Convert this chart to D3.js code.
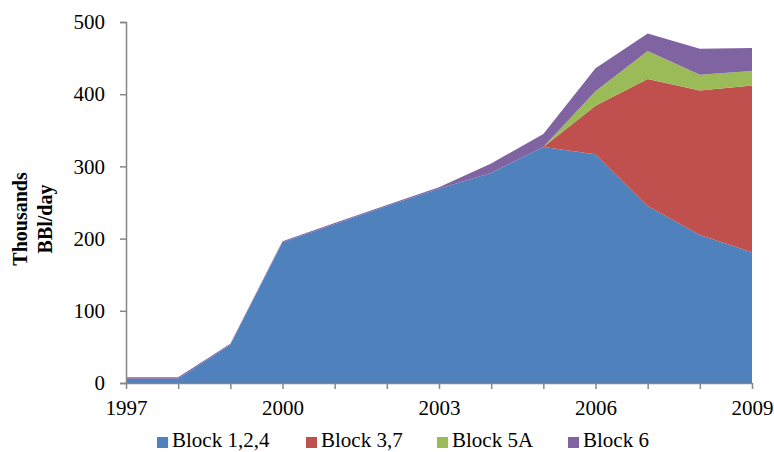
<!DOCTYPE html>
<html>
<head>
<meta charset="utf-8">
<script src="https://cdn.jsdelivr.net/npm/d3@7/dist/d3.min.js"></script>
<style>
  html, body { margin: 0; padding: 0; background: #fff; }
  svg { display: block; font-family: "Liberation Serif", "Times New Roman", serif; }
</style>
</head>
<body>
<svg id="chart" width="774" height="452"></svg>
<script>
// Production by block, thousands of barrels per day
const years = [1997, 1998, 1999, 2000, 2001, 2002, 2003, 2004, 2005, 2006, 2007, 2008, 2009];
const block124 = [6, 6, 53, 195, 220, 245, 269, 291, 327, 317, 245, 205, 181];
const block37  = [0, 0, 0, 0, 0, 0, 0, 0, 0, 67, 176, 200, 231];
const block5A  = [0, 0, 0, 0, 0, 0, 0, 0, 0, 20, 39, 22, 20];
const block6   = [2, 2, 1.5, 1.5, 1.5, 1.5, 2, 13, 18, 32, 24, 36, 32];
const seriesNames = ["Block 1,2,4", "Block 3,7", "Block 5A", "Block 6"];
const seriesColors = ["#4F81BD", "#C0504D", "#9BBB59", "#8064A2"];
const xTickYears = [1997, 2000, 2003, 2006, 2009];
const yTicks = [0, 100, 200, 300, 400, 500];

const rows = years.map((y, i) => ({
  year: y,
  "Block 1,2,4": block124[i],
  "Block 3,7": block37[i],
  "Block 5A": block5A[i],
  "Block 6": block6[i]
}));

const svg = d3.select("#chart");
const x = d3.scaleLinear().domain([1997, 2009]).range([126, 752]);
const y = d3.scaleLinear().domain([0, 500]).range([383, 22]);
const color = d3.scaleOrdinal().domain(seriesNames).range(seriesColors);

const stacked = d3.stack().keys(seriesNames)(rows);
const area = d3.area()
  .x(d => x(d.data.year))
  .y0(d => y(d[0]))
  .y1(d => y(d[1]));

svg.append("g").selectAll("path")
  .data(stacked)
  .join("path")
  .attr("d", area)
  .attr("fill", d => color(d.key));

const axisColor = "#868686";

// Y axis
const yAxis = svg.append("g")
  .attr("transform", "translate(126,0)")
  .call(d3.axisLeft(y).tickValues(yTicks).tickSize(6).tickPadding(15).tickFormat(d3.format("d")));
yAxis.select(".domain").attr("stroke", axisColor).attr("stroke-width", 1.5);
yAxis.selectAll(".tick line").attr("stroke", axisColor).attr("stroke-width", 1.5);
yAxis.selectAll(".tick text")
  .attr("fill", "#000")
  .style("font-size", "21px")
  .style("font-family", "Liberation Serif, serif");

// X axis: tick at every year, label every third year
const xAxis = svg.append("g")
  .attr("transform", "translate(0,383)")
  .call(d3.axisBottom(x).tickValues(years).tickSize(6).tickSizeOuter(0).tickPadding(11)
    .tickFormat(d => xTickYears.includes(d) ? String(d) : ""));
xAxis.select(".domain").attr("stroke", axisColor).attr("stroke-width", 1.5);
xAxis.selectAll(".tick line").attr("stroke", axisColor).attr("stroke-width", 1.5);
xAxis.selectAll(".tick text")
  .attr("fill", "#000")
  .style("font-size", "21px")
  .style("font-family", "Liberation Serif, serif");

// Y axis title, two lines
const title = svg.append("text")
  .attr("transform", "translate(0,219) rotate(-90)")
  .attr("text-anchor", "middle")
  .style("font-size", "20px")
  .style("font-weight", "bold");
title.append("tspan").attr("x", 0).attr("y", 27).text("Thousands");
title.append("tspan").attr("x", 0).attr("y", 52).text("BBl/day");

// Legend
const legendX = [157, 306, 437, 568];
const legend = svg.append("g").selectAll("g")
  .data(seriesNames)
  .join("g")
  .attr("transform", (d, i) => `translate(${legendX[i]},442)`);
legend.append("rect")
  .attr("x", 0).attr("y", -5)
  .attr("width", 11).attr("height", 11)
  .attr("fill", d => color(d));
legend.append("text")
  .attr("x", 15).attr("y", 5)
  .style("font-size", "21px")
  .text(d => d);
</script>
</body>
</html>
